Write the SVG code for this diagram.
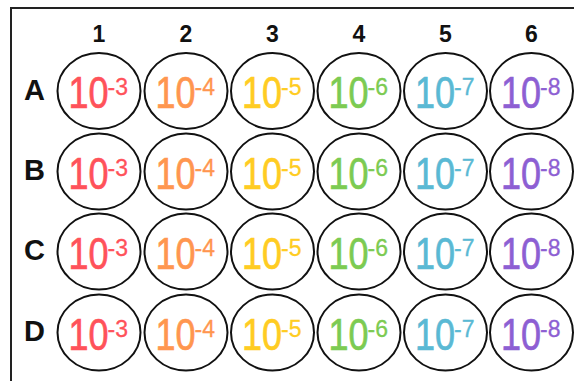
<svg xmlns="http://www.w3.org/2000/svg" width="574" height="381" viewBox="0 0 574 381">
<style>
.w{fill:#fff;stroke:#111;stroke-width:2}
.lab{font-family:"Liberation Sans",Arial,sans-serif;font-weight:bold;fill:#111;text-anchor:middle}
.col{font-size:23px}
.row{font-size:29px}
.m{font-family:"Liberation Sans",Arial,sans-serif;font-size:45px;stroke-width:0.7px}
.s{font-family:"Liberation Sans",Arial,sans-serif;font-size:23px;stroke-width:0.3px}
.c3{fill:#FF525A;stroke:#FF525A}.c4{fill:#FF964F;stroke:#FF964F}.c5{fill:#FFCC22;stroke:#FFCC22}.c6{fill:#7CCB52;stroke:#7CCB52}.c7{fill:#5AB9D4;stroke:#5AB9D4}.c8{fill:#8D5FD3;stroke:#8D5FD3}
</style>
<defs>
<ellipse id="well" class="w" cx="0" cy="0" rx="41.5" ry="38"/>
</defs>
<rect x="0" y="0" width="574" height="381" fill="#fff"/>
<g id="frame" fill="none" stroke="#222" stroke-width="2">
<line x1="11" y1="8" x2="574" y2="8"/>
<line x1="11" y1="7" x2="11" y2="381"/>
</g>
<g id="col-labels" class="lab col">
<text x="99" y="41.5">1</text>
<text x="186" y="41.5">2</text>
<text x="272.5" y="41.5">3</text>
<text x="359" y="41.5">4</text>
<text x="445.5" y="41.5">5</text>
<text x="531.5" y="41.5">6</text>
</g>
<g id="row-labels" class="lab row">
<text x="34.5" y="99.5">A</text>
<text x="34.5" y="180">B</text>
<text x="34.5" y="260">C</text>
<text x="34.5" y="341">D</text>
</g>
<g id="connectors"/>
<g id="wells">
<g id="A1" transform="translate(99,91)"><use href="#well"/><text class="m c3" transform="translate(-30.5,17) scale(0.8,1)">10</text><text class="s c3" x="8.5" y="4">-3</text></g>
<g id="A2" transform="translate(186,91)"><use href="#well"/><text class="m c4" transform="translate(-30.5,17) scale(0.8,1)">10</text><text class="s c4" x="8.5" y="4">-4</text></g>
<g id="A3" transform="translate(272.5,91)"><use href="#well"/><text class="m c5" transform="translate(-30.5,17) scale(0.8,1)">10</text><text class="s c5" x="8.5" y="4">-5</text></g>
<g id="A4" transform="translate(359,91)"><use href="#well"/><text class="m c6" transform="translate(-30.5,17) scale(0.8,1)">10</text><text class="s c6" x="8.5" y="4">-6</text></g>
<g id="A5" transform="translate(445.5,91)"><use href="#well"/><text class="m c7" transform="translate(-30.5,17) scale(0.8,1)">10</text><text class="s c7" x="8.5" y="4">-7</text></g>
<g id="A6" transform="translate(531.5,91)"><use href="#well"/><text class="m c8" transform="translate(-30.5,17) scale(0.8,1)">10</text><text class="s c8" x="8.5" y="4">-8</text></g>

<g id="B1" transform="translate(99,171.5)"><use href="#well"/><text class="m c3" transform="translate(-30.5,17) scale(0.8,1)">10</text><text class="s c3" x="8.5" y="4">-3</text></g>
<g id="B2" transform="translate(186,171.5)"><use href="#well"/><text class="m c4" transform="translate(-30.5,17) scale(0.8,1)">10</text><text class="s c4" x="8.5" y="4">-4</text></g>
<g id="B3" transform="translate(272.5,171.5)"><use href="#well"/><text class="m c5" transform="translate(-30.5,17) scale(0.8,1)">10</text><text class="s c5" x="8.5" y="4">-5</text></g>
<g id="B4" transform="translate(359,171.5)"><use href="#well"/><text class="m c6" transform="translate(-30.5,17) scale(0.8,1)">10</text><text class="s c6" x="8.5" y="4">-6</text></g>
<g id="B5" transform="translate(445.5,171.5)"><use href="#well"/><text class="m c7" transform="translate(-30.5,17) scale(0.8,1)">10</text><text class="s c7" x="8.5" y="4">-7</text></g>
<g id="B6" transform="translate(531.5,171.5)"><use href="#well"/><text class="m c8" transform="translate(-30.5,17) scale(0.8,1)">10</text><text class="s c8" x="8.5" y="4">-8</text></g>

<g id="C1" transform="translate(99,251.5)"><use href="#well"/><text class="m c3" transform="translate(-30.5,17) scale(0.8,1)">10</text><text class="s c3" x="8.5" y="4">-3</text></g>
<g id="C2" transform="translate(186,251.5)"><use href="#well"/><text class="m c4" transform="translate(-30.5,17) scale(0.8,1)">10</text><text class="s c4" x="8.5" y="4">-4</text></g>
<g id="C3" transform="translate(272.5,251.5)"><use href="#well"/><text class="m c5" transform="translate(-30.5,17) scale(0.8,1)">10</text><text class="s c5" x="8.5" y="4">-5</text></g>
<g id="C4" transform="translate(359,251.5)"><use href="#well"/><text class="m c6" transform="translate(-30.5,17) scale(0.8,1)">10</text><text class="s c6" x="8.5" y="4">-6</text></g>
<g id="C5" transform="translate(445.5,251.5)"><use href="#well"/><text class="m c7" transform="translate(-30.5,17) scale(0.8,1)">10</text><text class="s c7" x="8.5" y="4">-7</text></g>
<g id="C6" transform="translate(531.5,251.5)"><use href="#well"/><text class="m c8" transform="translate(-30.5,17) scale(0.8,1)">10</text><text class="s c8" x="8.5" y="4">-8</text></g>

<g id="D1" transform="translate(99,332.5)"><use href="#well"/><text class="m c3" transform="translate(-30.5,17) scale(0.8,1)">10</text><text class="s c3" x="8.5" y="4">-3</text></g>
<g id="D2" transform="translate(186,332.5)"><use href="#well"/><text class="m c4" transform="translate(-30.5,17) scale(0.8,1)">10</text><text class="s c4" x="8.5" y="4">-4</text></g>
<g id="D3" transform="translate(272.5,332.5)"><use href="#well"/><text class="m c5" transform="translate(-30.5,17) scale(0.8,1)">10</text><text class="s c5" x="8.5" y="4">-5</text></g>
<g id="D4" transform="translate(359,332.5)"><use href="#well"/><text class="m c6" transform="translate(-30.5,17) scale(0.8,1)">10</text><text class="s c6" x="8.5" y="4">-6</text></g>
<g id="D5" transform="translate(445.5,332.5)"><use href="#well"/><text class="m c7" transform="translate(-30.5,17) scale(0.8,1)">10</text><text class="s c7" x="8.5" y="4">-7</text></g>
<g id="D6" transform="translate(531.5,332.5)"><use href="#well"/><text class="m c8" transform="translate(-30.5,17) scale(0.8,1)">10</text><text class="s c8" x="8.5" y="4">-8</text></g>
</g>
</svg>
